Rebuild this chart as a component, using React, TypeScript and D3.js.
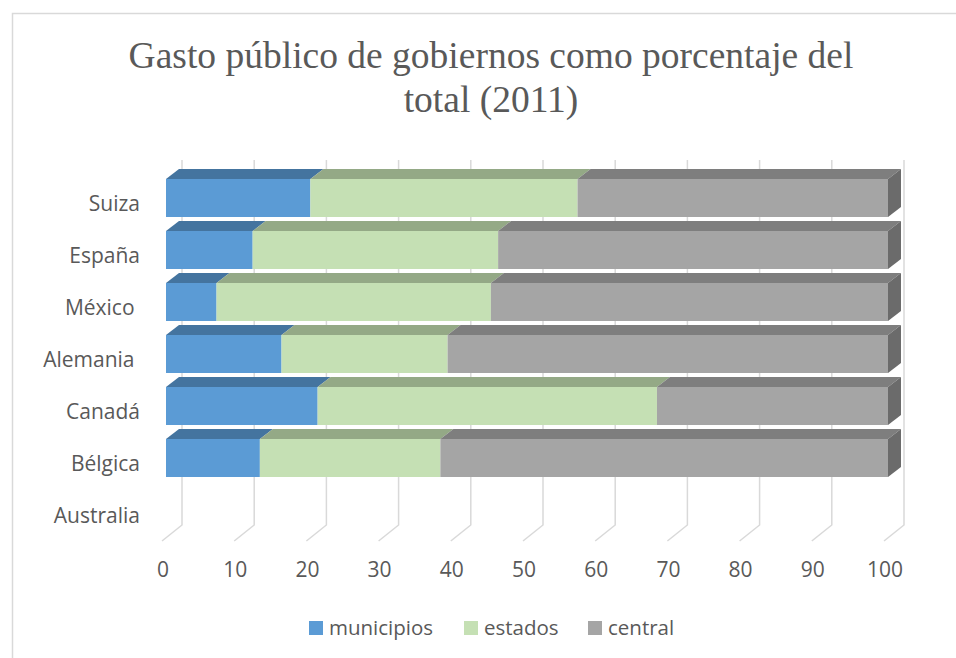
import React from 'react'
import * as d3 from 'd3'

// countries, top to bottom as shown
const countries = ['Suiza', 'España', 'México ', 'Alemania ', 'Canadá', 'Bélgica', 'Australia']
// share of public spending (%), Australia has no data
const municipios = [20, 12, 7, 16, 21, 13, null]
const estados = [37, 34, 38, 23, 47, 25, null]
const central = [43, 54, 55, 61, 32, 62, null]
const seriesNames = ['municipios', 'estados', 'central']
const xTicks = [0, 10, 20, 30, 40, 50, 60, 70, 80, 90, 100]
const titleLines = ['Gasto público de gobiernos como porcentaje del', 'total (2011)']

const W = 956
const H = 658
const font = '"Open Sans", "Noto Sans", sans-serif'
const textColor = '#595959'
const gridColor = '#d9d9d9'

// front, top and side shades for each series
const colors = [
  { front: '#5b9bd5', top: '#44749f', side: '#3b6890' },
  { front: '#c5e0b4', top: '#94a986', side: '#849878' },
  { front: '#a5a5a5', top: '#7e7e7e', side: '#6b6b6b' },
]

const depthX = 13 // bar depth offset
const depthY = 10

const App: React.FC = () => {
  const x = d3.scaleLinear().domain([0, 100]).range([166, 888])
  // back wall of the 3D plot
  const xGrid = d3.scaleLinear().domain([0, 100]).range([182, 904])
  const y = d3.scaleBand<string>().domain(countries).range([169, 169 + 52 * countries.length])

  const values = [municipios, estados, central]

  const stack = countries.map((c, i) => {
    let acc = 0
    return values.map((vals, s) => {
      const v = vals[i]
      if (v == null) return null
      const seg = { s, x0: acc, x1: acc + v, c }
      acc += v
      return seg
    })
  })

  const legendX = [309, 464, 588]

  return (
    <svg width={W} height={H} style={{ position: 'absolute', left: 0, top: 0, background: '#fff' }}>
      <rect x={12.5} y={13.5} width={W} height={H} fill="#fff" stroke={gridColor} strokeWidth={1.5} />

      {/* title */}
      <text x={491} y={68} textAnchor="middle" fontFamily='"Liberation Serif", "Times New Roman", serif' fontSize={37.5} fill={textColor}>
        {titleLines.map((t, i) => (
          <tspan key={i} x={491} y={68 + i * 44}>{t}</tspan>
        ))}
      </text>

      {/* gridlines: back wall + floor */}
      {xTicks.map(t => (
        <path
          key={t}
          d={`M${xGrid(t)},160V525L${xGrid(t) - 20},541`}
          fill="none"
          stroke={gridColor}
          strokeWidth={1.5}
        />
      ))}

      {/* bars */}
      {stack.map((row, i) => {
        const top = y(countries[i])!
        const fy = top + depthY
        const fh = 38
        return (
          <g key={i}>
            {row.map((seg, k) => {
              if (!seg) return null
              const x0 = x(seg.x0)
              const x1 = x(seg.x1)
              const col = colors[seg.s]
              const last = k === row.length - 1
              return (
                <g key={k}>
                  <path
                    d={`M${x0},${fy}L${x0 + depthX},${top}L${x1 + depthX},${top}L${x1},${fy}Z`}
                    fill={col.top}
                  />
                  <rect x={x0} y={fy} width={x1 - x0} height={fh} fill={col.front} />
                  {last && (
                    <path
                      d={`M${x1},${fy}L${x1 + depthX},${top}L${x1 + depthX},${top + fh}L${x1},${fy + fh}Z`}
                      fill={col.side}
                    />
                  )}
                </g>
              )
            })}
          </g>
        )
      })}

      {/* category labels */}
      {countries.map(c => (
        <text
          key={c}
          x={140}
          y={y(c)! + 34}
          textAnchor="end"
          dominantBaseline="central"
          fontFamily={font}
          fontSize={21}
          fill={textColor}
          style={{ whiteSpace: 'pre' }}
        >
          {c}
        </text>
      ))}

      {/* value axis labels */}
      {xTicks.map(t => (
        <text
          key={t}
          x={xGrid(t) - 19}
          y={577}
          textAnchor="middle"
          fontFamily={font}
          fontSize={21}
          fill={textColor}
        >
          {t}
        </text>
      ))}

      {/* legend */}
      {seriesNames.map((n, i) => (
        <g key={n} transform={`translate(${legendX[i]},621)`}>
          <rect width={14} height={14} fill={colors[i].front} />
          <text x={20} y={14} fontFamily={font} fontSize={20.5} fill={textColor}>{n}</text>
        </g>
      ))}
    </svg>
  )
}

export default App
